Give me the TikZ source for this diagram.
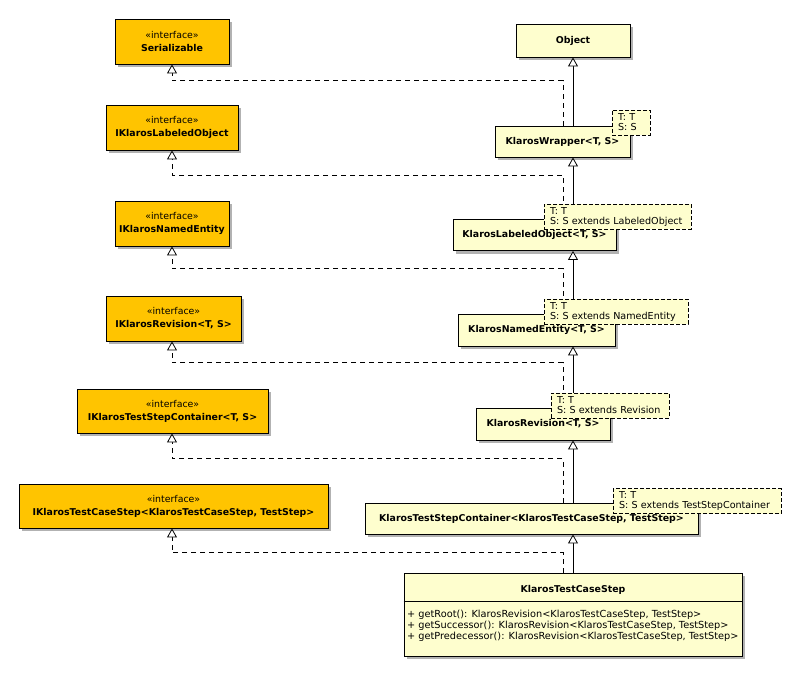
\documentclass[tikz,border=0pt]{standalone}
\usepackage{fontspec}
\setmainfont{DejaVu Sans}
\usetikzlibrary{arrows.meta,shadows}
\definecolor{ifill}{HTML}{FFC400}
\definecolor{cfill}{HTML}{FEFECE}
\newcommand{\stfont}{\fontsize{9.4}{13}\selectfont}
\newcommand{\nmfont}{\bfseries\fontsize{9.4}{13}\selectfont}
\begin{document}
\begin{tikzpicture}[x=1pt,y=-1pt,
  box/.style={draw, line width=0.9pt, inner sep=0pt, align=center,
    drop shadow={shadow xshift=3pt, shadow yshift=-3pt, opacity=0.3, fill=black}},
  iface/.style={box, fill=ifill, minimum height=45pt, font=\fontsize{9.4}{13}\selectfont},
  cls/.style={box, fill=cfill, font=\bfseries\fontsize{9.4}{11}\selectfont},
  tmpl/.style={draw, line width=0.8pt, dash pattern=on 4pt off 2pt, fill=cfill, align=left,
    inner xsep=6pt, inner ysep=0pt, minimum height=25pt, font=\fontsize{9.6}{10}\selectfont},
  ext/.style={-{Triangle[width=10pt,length=9pt,fill=white]}, line width=0.8pt},
  impl/.style={ext, dash pattern=on 5pt off 4pt},
  meth/.style={anchor=base west, inner sep=0pt, font=\fontsize{9.75}{11}\selectfont}
]
\useasboundingbox (0,0) rectangle (800,674);
\fill[white] (0,0) rectangle (800,674);

\coordinate (lx) at (172,0);
\coordinate (dx) at (563,0);
\coordinate (sx) at (573,0);

% interfaces
\node[iface, minimum width=114pt] (Ser) at (172,41.5) {\stfont «interface»\\\nmfont Serializable};
\node[iface, minimum width=132pt] (ILO) at (172,127.5) {\stfont «interface»\\\nmfont IKlarosLabeledObject};
\node[iface, minimum width=114pt] (INE) at (172,223.5) {\stfont «interface»\\\nmfont IKlarosNamedEntity};
\node[iface, minimum width=135pt] (IRev) at (173.5,318.5) {\stfont «interface»\\\nmfont IKlarosRevision<T, S>};
\node[iface, minimum width=191pt, minimum height=44pt] (ITSC) at (172.5,411) {\stfont «interface»\\\nmfont IKlarosTestStepContainer<T, S>};
\node[iface, minimum width=309pt, minimum height=44pt] (ITCS) at (173.5,506) {\stfont «interface»\\\nmfont IKlarosTestCaseStep<KlarosTestCaseStep, TestStep>};

% classes
\node[cls, minimum width=114pt, minimum height=33pt] (Obj) at (573,40.5) {Object};
\node[cls, minimum width=135pt, minimum height=31pt] (KW) at (562.5,141.5) {KlarosWrapper<T, S>};
\node[cls, minimum width=163pt, minimum height=31pt] (KLO) at (534.5,235) {KlarosLabeledObject<T, S>};
\node[cls, minimum width=157pt, minimum height=32pt] (KNE) at (536.5,330) {KlarosNamedEntity<T, S>};
\node[cls, minimum width=134pt, minimum height=32pt] (KR) at (543,424) {KlarosRevision<T, S>};
\node[cls, minimum width=333pt, minimum height=31pt] (KTSC) at (531.5,518.5) {KlarosTestStepContainer<KlarosTestCaseStep, TestStep>};
\node[box, fill=cfill, minimum width=338pt, minimum height=83pt] (KTCS) at (573,614.5) {};
\draw[line width=0.9pt] (KTCS.west |- 0,601) -- (KTCS.east |- 0,601);
\node[font=\bfseries\fontsize{9.4}{11}\selectfont, inner sep=0pt, anchor=base] (KTCSt) at (573,592) {KlarosTestCaseStep};
\node[meth] (KTCSm1) at (407,617.5) {+ getRoot(): KlarosRevision<KlarosTestCaseStep, TestStep>};
\node[meth] (KTCSm2) at (407,628.5) {+ getSuccessor(): KlarosRevision<KlarosTestCaseStep, TestStep>};
\node[meth] (KTCSm3) at (407,639.5) {+ getPredecessor(): KlarosRevision<KlarosTestCaseStep, TestStep>};

% realisation (dashed)
\draw[impl] (KW.north -| dx) -- ++(0,-45) -| (Ser.south -| lx);
\draw[impl] (KLO.north -| dx) -- ++(0,-44) -| (ILO.south -| lx);
\draw[impl] (KNE.north -| dx) -- ++(0,-45) -| (INE.south -| lx);
\draw[impl] (KR.north -| dx) -- ++(0,-45) -| (IRev.south -| lx);
\draw[impl] (KTSC.north -| dx) -- ++(0,-44) -| (ITSC.south -| lx);
\draw[impl] (KTCS.north -| dx) -- ++(0,-20) -| (ITCS.south -| lx);

% generalisation (solid)
\draw[ext] (KW.north -| sx) -- (Obj.south -| sx);
\draw[ext] (KLO.north -| sx) -- (KW.south -| sx);
\draw[ext] (KNE.north -| sx) -- (KLO.south -| sx);
\draw[ext] (KR.north -| sx) -- (KNE.south -| sx);
\draw[ext] (KTSC.north -| sx) -- (KR.south -| sx);
\draw[ext] (KTCS.north -| sx) -- (KTSC.south -| sx);

% template parameter boxes
\node[tmpl, text width=26pt] (T1) at (631,122.5) {T: T\\S: S};
\node[tmpl, text width=135pt] (T2) at (617.5,216.5) {T: T\\S: S extends LabeledObject};
\node[tmpl, text width=132pt] (T3) at (616,311.5) {T: T\\S: S extends NamedEntity};
\node[tmpl, text width=106pt] (T4) at (610,405.5) {T: T\\S: S extends Revision};
\node[tmpl, text width=156pt] (T5) at (697,501) {T: T\\S: S extends TestStepContainer};
\end{tikzpicture}
\end{document}
